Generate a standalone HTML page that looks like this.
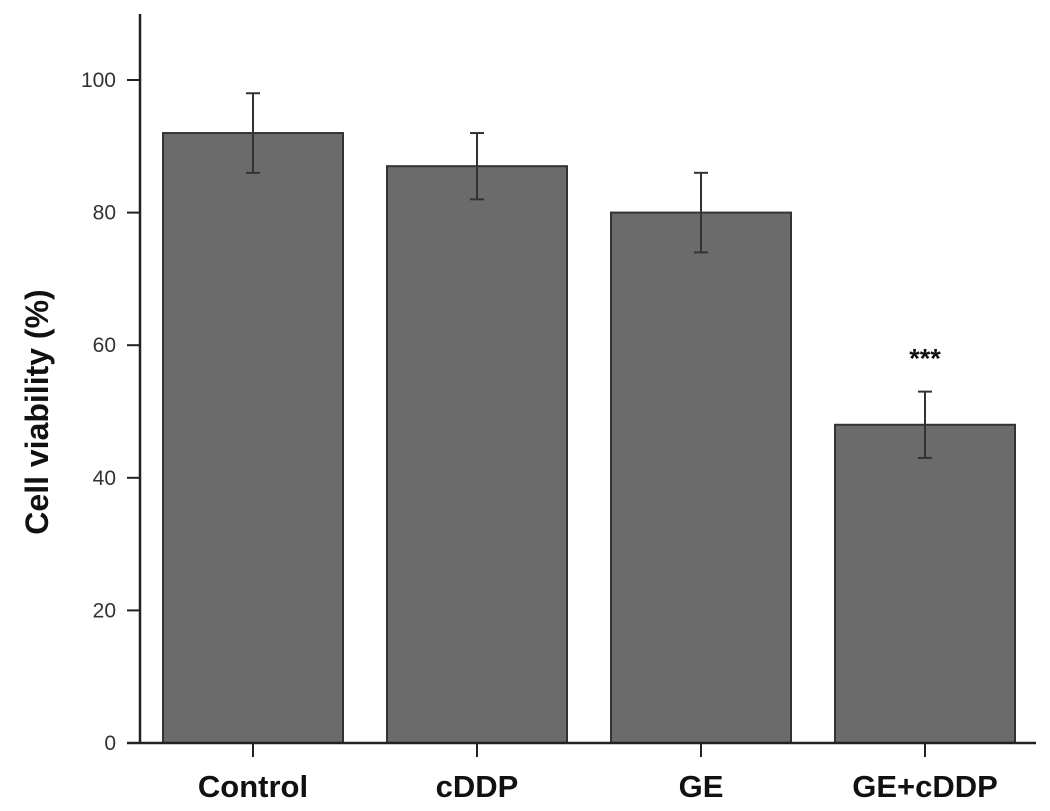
<!DOCTYPE html>
<html><head><style>
body{margin:0;background:#fff;}
svg{display:block;font-family:"Liberation Sans",Arial,sans-serif;}
</style></head><body>
<svg id="chart" width="1050" height="811">
<g id="g"></g>
</svg>
<script>
const categories=["Control","cDDP","GE","GE+cDDP"];
const values=[92,87,80,48];
const errors=[6,5,6,5];
const yTicks=[0,20,40,60,80,100];
const sig=["","","","***"];
const ns="http://www.w3.org/2000/svg";
const g=document.getElementById('g');
const y0=743,yTop=80,x0=140;
function y(v){return y0-(y0-yTop)*v/100;}
const bandStart=141,band=224,barW=180;
function xc(i){return bandStart+band*i+band/2;}
function mk(t,a,txt){const e=document.createElementNS(ns,t);for(const k in a)e.setAttribute(k,a[k]);if(txt!=null)e.textContent=txt;g.appendChild(e);return e;}
categories.forEach((c,i)=>{
  const cx=xc(i);
  const r=mk('rect',{x:cx-barW/2,y:y(values[i]),width:barW,height:y0-y(values[i]),fill:'#6b6b6b',stroke:'#333','stroke-width':2});
  
  
  const eg=[[cx,y(values[i]+errors[i]),cx,y(values[i]-errors[i])],[cx-7,y(values[i]+errors[i]),cx+7,y(values[i]+errors[i])],[cx-7,y(values[i]-errors[i]),cx+7,y(values[i]-errors[i])]];
  eg.forEach(l=>{const e=mk('line',{x1:l[0],y1:l[1],x2:l[2],y2:l[3],stroke:'#333','stroke-width':2});
    
    });
  const tk=mk('line',{x1:cx,y1:y0,x2:cx,y2:y0+14,stroke:'#222','stroke-width':2});
  
  
  const t=mk('text',{x:cx,y:797,'text-anchor':'middle','font-size':31,'font-weight':'bold',fill:'#111'},c);
  
  
  if(sig[i]){const s=mk('text',{x:cx,y:y(values[i]+errors[i])-24,'text-anchor':'middle','font-size':27,'font-weight':'bold',fill:'#111'},sig[i]);
    
    }
});
yTicks.forEach(v=>{
  const l=mk('line',{x1:x0-13,y1:y(v),x2:x0,y2:y(v),stroke:'#222','stroke-width':2});
  
  
  const t=mk('text',{x:x0-24,y:y(v)+7,'text-anchor':'end','font-size':21,fill:'#333'},v);
  
  
});
const ya=mk('line',{x1:x0,y1:14,x2:x0,y2:y0+1,stroke:'#222','stroke-width':2.5});


const xa=mk('line',{x1:x0-13,y1:y0,x2:1036,y2:y0,stroke:'#222','stroke-width':2.5});


const yt=mk('text',{x:0,y:0,transform:'translate(48,412) rotate(-90)','text-anchor':'middle','font-size':32,'font-weight':'bold',fill:'#111'},'Cell viability (%)');


</script>
</body></html>
